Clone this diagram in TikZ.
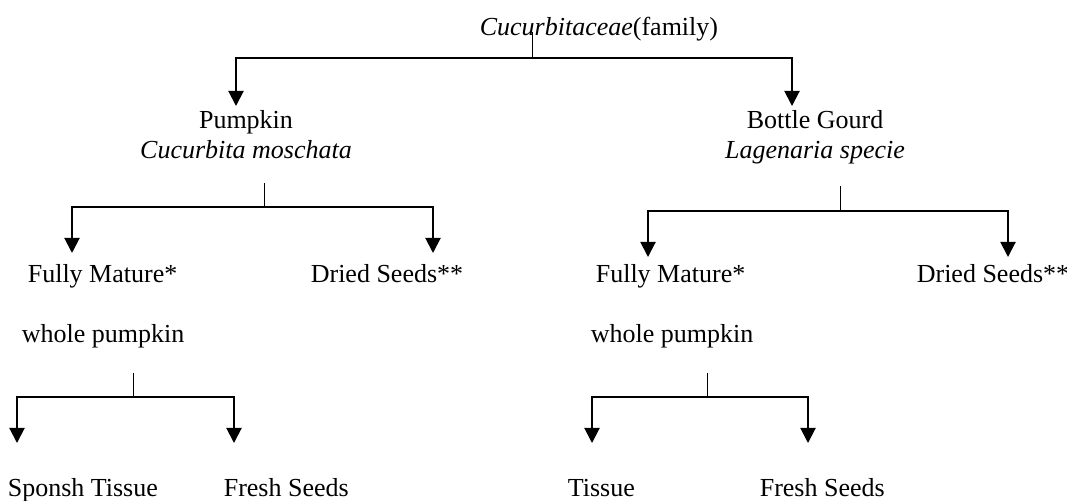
\documentclass[tikz,border=0pt]{standalone}
\usepackage{fontspec}
\setmainfont{Liberation Serif}
\usetikzlibrary{arrows.meta}

\tikzset{every picture/.style={line width=0.75pt}}

\begin{document}
\begin{tikzpicture}[x=0.4615pt,y=0.4615pt,yscale=-1,xscale=1,
  txt/.style={anchor=base west,inner sep=0pt,font=\fontsize{12}{14}\selectfont},
  ctxt/.style={anchor=base,inner sep=0pt,font=\fontsize{12}{14}\selectfont},
  stemline/.style={line width=0.46pt},
  forkline/.style={line width=0.92pt,{Triangle[width=7pt,length=7pt]}-{Triangle[width=7pt,length=7pt]}}]
\useasboundingbox (0,0) rectangle (1067,500);

% Text Node
\node [txt] (family) at (479,35) {\textit{Cucurbitaceae}(family)};
% Text Node
\node [ctxt] (pumpkin) at (246,128) {Pumpkin};
% Text Node
\node [ctxt] (moschata) at (246,158) {\textit{Cucurbita moschata}};
% Text Node
\node [ctxt] (gourd) at (815,128) {Bottle Gourd};
% Text Node
\node [ctxt] (lagenaria) at (815,158) {\textit{Lagenaria specie}};
% Text Node
\node [txt] (mature1) at (27,282) {Fully Mature*};
% Text Node
\node [txt] (dried1) at (310,282) {Dried Seeds**};
% Text Node
\node [txt] (mature2) at (595,282) {Fully Mature*};
% Text Node
\node [txt] (dried2) at (916,282) {Dried Seeds**};
% Text Node
\node [txt] (whole1) at (21,342) {whole pumpkin};
% Text Node
\node [txt] (whole2) at (590,342) {whole pumpkin};
% Text Node
\node [txt] (sponsh) at (7,496) {Sponsh Tissue};
% Text Node
\node [txt] (fresh1) at (223,496) {Fresh Seeds};
% Text Node
\node [txt] (tissue) at (567,496) {Tissue};
% Text Node
\node [txt] (fresh2) at (759,496) {Fresh Seeds};

%Junctions and arrow tips
\coordinate (s0) at (532,32);   \coordinate (j0) at (532,58);
\coordinate (a0l) at (236,106); \coordinate (a0r) at (792,106);
\coordinate (s1) at (264,183);  \coordinate (j1) at (264,207);
\coordinate (a1l) at (72,253);  \coordinate (a1r) at (433,253);
\coordinate (s2) at (840,186);  \coordinate (j2) at (840,211);
\coordinate (a2l) at (648,257); \coordinate (a2r) at (1008,257);
\coordinate (s3) at (133,373);  \coordinate (j3) at (133,397);
\coordinate (a3l) at (17,443);  \coordinate (a3r) at (234,443);
\coordinate (s4) at (707,373);  \coordinate (j4) at (707,397);
\coordinate (a4l) at (592,443); \coordinate (a4r) at (808,443);

%Straight Lines
\draw [stemline] (s0) -- (j0) ;
\draw [forkline] (a0l) |- (j0) -| (a0r) ;
%Straight Lines
\draw [stemline] (s1) -- (j1) ;
\draw [forkline] (a1l) |- (j1) -| (a1r) ;
%Straight Lines
\draw [stemline] (s2) -- (j2) ;
\draw [forkline] (a2l) |- (j2) -| (a2r) ;
%Straight Lines
\draw [stemline] (s3) -- (j3) ;
\draw [forkline] (a3l) |- (j3) -| (a3r) ;
%Straight Lines
\draw [stemline] (s4) -- (j4) ;
\draw [forkline] (a4l) |- (j4) -| (a4r) ;

\end{tikzpicture}
\end{document}
